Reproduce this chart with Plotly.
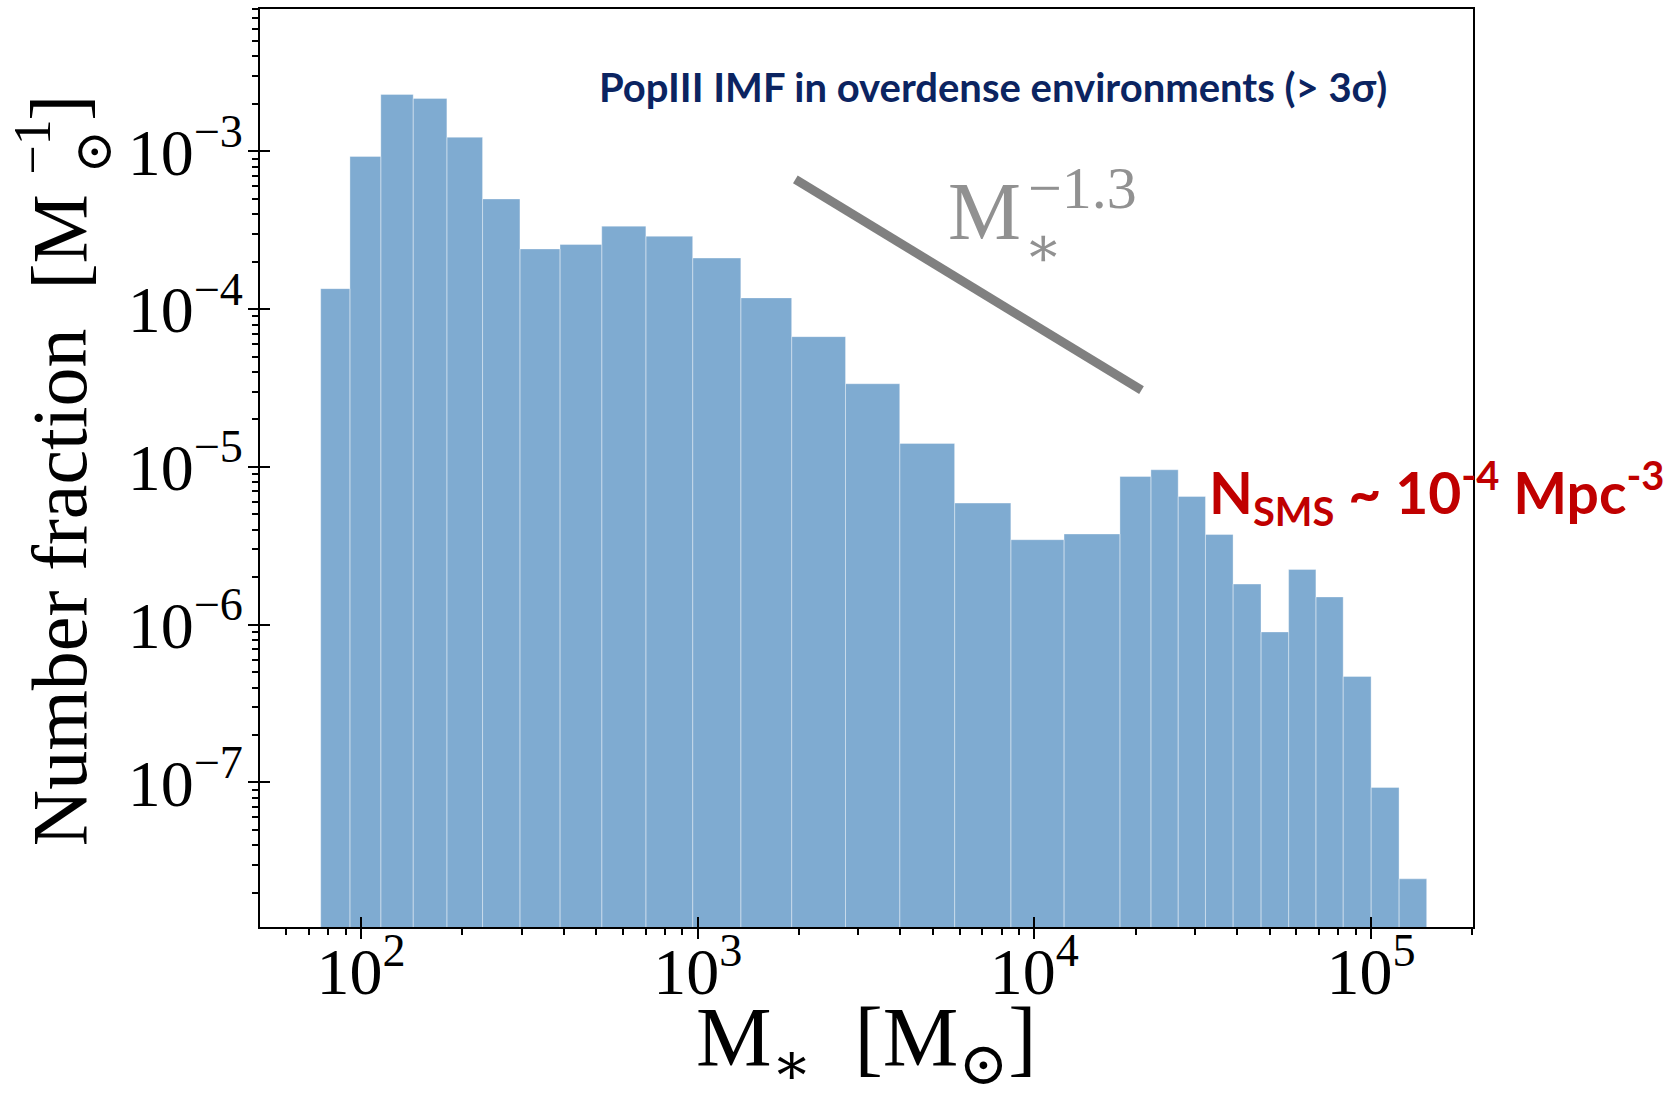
import numpy as np
import plotly.graph_objects as go

# Histogram of Pop III stellar masses: bin edges [Msun] and number fraction per bin [Msun^-1]
bin_edges = [75.9, 92.7, 114.5, 142.9, 179.9, 229.6, 296.5, 390.0, 518.8, 701.5,
             966.1, 1342.8, 1901.1, 2748, 3981, 5794, 8511, 12246, 17947, 22182,
             26730, 32211, 38905, 47098, 56885, 68549, 82604, 100000, 121060, 146220]
number_fraction = [1.35e-4, 9.3e-4, 2.30e-3, 2.17e-3, 1.23e-3, 5.0e-4, 2.41e-4, 2.57e-4,
                   3.36e-4, 2.90e-4, 2.11e-4, 1.18e-4, 6.7e-5, 3.37e-5, 1.41e-5, 5.9e-6,
                   3.46e-6, 3.76e-6, 8.7e-6, 9.6e-6, 6.5e-6, 3.73e-6, 1.81e-6, 9.0e-7,
                   2.24e-6, 1.50e-6, 4.7e-7, 9.3e-8, 2.45e-8]

# Reference power law M^-1.3
slope = -1.3
slope_norm = 12.6
slope_mass_range = [1950, 20800]

# Axis ticks
x_tick_vals = [1e2, 1e3, 1e4, 1e5]
x_tick_text = ["10<sup>2</sup>", "10<sup>3</sup>", "10<sup>4</sup>", "10<sup>5</sup>"]
y_tick_vals = [1e-3, 1e-4, 1e-5, 1e-6, 1e-7]
y_tick_text = ["10<sup>\u22123</sup>", "10<sup>\u22124</sup>", "10<sup>\u22125</sup>",
               "10<sup>\u22126</sup>", "10<sup>\u22127</sup>"]

SERIF = "Liberation Serif, DejaVu Serif, serif"
SANS = "Lato, Open Sans, sans-serif"
BAR_COLOR = "rgb(127,171,209)"
GREY_TEXT = "rgb(145,145,145)"
floor = 1e-9  # bars start below the visible range

# plot-area geometry in pixels, used to place the free-floating labels
PL, PR, PT, PB = 260, 1473, 7, 927


def px(x):
    return (x - PL) / (PR - PL)


def py(y):
    return (PB - y) / (PB - PT)


# Build the step histogram as closed rectangles separated by gaps
hx, hy = [], []
for lo, hi, v in zip(bin_edges[:-1], bin_edges[1:], number_fraction):
    hx += [lo, lo, hi, hi, lo, None]
    hy += [floor, v, v, floor, floor, None]

fig = go.Figure()
fig.add_trace(go.Scatter(
    x=hx, y=hy, mode="lines", fill="toself", fillcolor=BAR_COLOR,
    line=dict(color="rgba(255,255,255,0.35)", width=1), hoverinfo="skip",
    showlegend=False))

m_line = np.array(slope_mass_range, dtype=float)
fig.add_trace(go.Scatter(
    x=m_line, y=slope_norm * m_line ** slope, mode="lines",
    line=dict(color="rgb(128,128,128)", width=9), showlegend=False,
    xaxis="x2", yaxis="y2"))

x_range = [1.700, 5.3026]
y_range = [-7.916, -2.097]

minor_x = [k * 10 ** n for n in range(1, 6) for k in range(2, 10)]
minor_y = [k * 10 ** n for n in range(-9, -1) for k in range(2, 10)]

axis_common = dict(type="log", showgrid=False, zeroline=False)
minor_common = dict(ticks="outside", ticklen=6, tickwidth=1.5, tickcolor="black",
                    tickmode="array", showgrid=False)

fig.update_layout(
    width=1671, height=1101,
    margin=dict(l=PL, r=1671 - PR, t=PT, b=1101 - PB),
    paper_bgcolor="white", plot_bgcolor="white",
    xaxis=dict(**axis_common, range=x_range, showline=True, linecolor="black",
               linewidth=2, mirror=True, ticks="outside", ticklen=10, tickwidth=2,
               tickcolor="black", tickmode="array", tickvals=x_tick_vals,
               ticktext=x_tick_text, ticklabelstandoff=-24,
               tickfont=dict(family=SERIF, size=66, color="black"),
               minor=dict(**minor_common, tickvals=minor_x)),
    yaxis=dict(**axis_common, range=y_range, showline=True, linecolor="black",
               linewidth=2, mirror=True, ticks="outside", ticklen=10, tickwidth=2,
               tickcolor="black", tickmode="array", tickvals=y_tick_vals,
               ticktext=y_tick_text, ticklabelstandoff=-8,
               tickfont=dict(family=SERIF, size=66, color="black"),
               minor=dict(**minor_common, tickvals=minor_y)),
    # overlaid axes carry the inner half of the major ticks
    xaxis2=dict(**axis_common, range=x_range, overlaying="x", anchor="y",
                side="bottom", showline=False, ticks="inside", ticklen=10,
                tickwidth=2, tickcolor="black", tickmode="array",
                tickvals=x_tick_vals, showticklabels=False),
    yaxis2=dict(**axis_common, range=y_range, overlaying="y", anchor="x",
                side="left", showline=False, ticks="inside", ticklen=10,
                tickwidth=2, tickcolor="black", tickmode="array",
                tickvals=y_tick_vals, showticklabels=False),
    showlegend=False,
)

annotations = [
    # y-axis title, drawn in pieces so the solar symbol and exponent stack
    dict(text="Number fraction  [M", xref="paper", yref="paper",
         x=px(59), y=py(848), xanchor="center", yanchor="bottom", textangle=-90,
         showarrow=False, font=dict(family=SERIF, size=78, color="black")),
    dict(text="\u2299", xref="paper", yref="paper", x=px(94), y=py(150),
         xanchor="center", yanchor="middle", textangle=-90, showarrow=False,
         font=dict(family=SERIF, size=52, color="black")),
    dict(text="\u22121", xref="paper", yref="paper", x=px(33), y=py(146),
         xanchor="center", yanchor="middle", textangle=-90, showarrow=False,
         font=dict(family=SERIF, size=52, color="black")),
    dict(text="]", xref="paper", yref="paper", x=px(59), y=py(106),
         xanchor="center", yanchor="middle", textangle=-90, showarrow=False,
         font=dict(family=SERIF, size=78, color="black")),
    # x-axis title
    dict(text="M<sub>\u2217</sub>  [M<sub>\u2299</sub>]",
         xref="paper", yref="paper", x=0.5, y=py(1044), xanchor="center",
         yanchor="middle", showarrow=False,
         font=dict(family=SERIF, size=85, color="black")),
    # power-law label
    dict(text="M", xref="paper", yref="paper", x=px(946),
         y=py(210), xanchor="left", yanchor="middle", showarrow=False,
         font=dict(family=SERIF, size=82, color=GREY_TEXT)),
    dict(text="\u22121.3", xref="paper", yref="paper", x=px(1026),
         y=py(186), xanchor="left", yanchor="middle", showarrow=False,
         font=dict(family=SERIF, size=60, color=GREY_TEXT)),
    dict(text="\u2217", xref="paper", yref="paper", x=px(1022),
         y=py(246), xanchor="left", yanchor="middle", showarrow=False,
         font=dict(family=SERIF, size=56, color=GREY_TEXT)),
    # headline and density label
    dict(text="<b>PopIII IMF in overdense environments (&gt; 3\u03c3)</b>",
         xref="paper", yref="paper", x=px(993), y=py(85),
         xanchor="center", yanchor="middle", showarrow=False,
         font=dict(family=SANS, size=40, color="#0b2461")),
    dict(text="<b>N<sub>SMS</sub> ~ 10<sup>-4</sup> Mpc<sup>-3</sup></b>",
         xref="paper", yref="paper", x=px(1207), y=py(492),
         xanchor="left", yanchor="middle", showarrow=False,
         font=dict(family=SANS, size=57, color="#c00000")),
]
fig.update_layout(annotations=annotations)

fig.write_html("out.html")
